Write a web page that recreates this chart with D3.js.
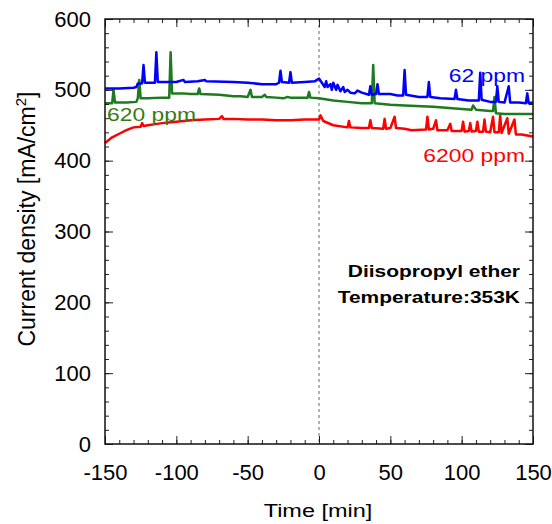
<!DOCTYPE html>
<html>
<head>
<meta charset="utf-8">
<script src="https://cdn.jsdelivr.net/npm/d3@7"></script>
<style>
  body { margin: 0; background: #fff; }
  text { font-family: "Liberation Sans", Arial, sans-serif; }
</style>
</head>
<body>
<div id="chart"></div>
<script>
var svgWidth = 552;
var svgHeight = 524;

var margin = { top: 19, right: 19, bottom: 80, left: 105 };
var width = 533 - margin.left;
var height = 444 - margin.top;

// series data: time [min] and current density [mA/cm2]
var blueTime = [-150,-140,-130,-128,-127,-124,-123,-122,-115,-114,-113,-100,-95,-94,-85,-80,-79,-60,-50,-40,-30,-28,-27,-26,-21,-20,-19,-10,-3,0,2,4,5,6,8,9,10,12,13,15,17,18,20,22,25,27,30,35,36,37,40,41,42,50,55,59,60,61,70,76,77,78,85,95,96,97,105,112,113,114,120,124,125,126,130,133,134,140,145,146,147,150];
var blueValue = [502,502,503,504,509,509,535,510,510,553,511,511,514,511,512,514,512,511,510,508,508,510,527,511,510,525,510,511,512,516,510,504,512,504,508,500,510,500,507,498,504,497,500,496,495,499,496,493,505,493,494,508,494,494,492,492,528,493,490,490,511,490,488,487,500,487,485,485,524,486,483,483,505,483,482,505,482,482,481,495,481,482];

var greenTime = [-150,-145,-144,-143,-135,-128,-127,-126,-125,-120,-110,-105,-104,-103,-95,-90,-85,-84,-83,-70,-60,-55,-50,-48,-47,-40,-38,-37,-30,-25,-22,-20,-8,-7,-6,0,10,20,30,37,38,39,50,60,80,100,107,108,110,120,122,123,124,130,150];
var greenValue = [481,481,500,482,482,483,488,514,488,488,489,489,553,495,495,494,494,502,494,493,491,491,490,500,490,490,493,490,489,488,490,489,489,497,489,488,485,483,481,481,535,481,479,478,476,473,472,478,472,470,470,490,467,466,466];

var redTime = [-150,-145,-140,-135,-130,-125,-124,-123,-120,-110,-100,-90,-80,-70,-68,-67,-60,-50,-40,-30,-20,-10,0,1,3,10,20,21,22,30,35,36,37,45,46,47,50,53,54,60,65,75,76,77,80,82,83,90,92,93,100,101,102,105,106,107,110,111,112,115,116,117,120,122,123,126,127,128,132,133,137,138,142,145,150];
var redValue = [425,433,438,443,447,448,453,449,450,453,455,457,458,459,463,459,459,458,458,457,457,458,458,464,456,450,447,456,447,446,446,457,446,445,459,445,446,462,446,445,443,444,462,444,445,457,443,443,452,442,442,455,441,442,453,441,442,455,441,441,458,441,440,462,440,440,464,439,460,438,458,437,437,436,434];

var xTicks = [-150,-100,-50,0,50,100,150];
var yTicks = [0,100,200,300,400,500,600];

var chart = d3.select('#chart');
var svg = chart.append('svg')
    .attr('width', svgWidth)
    .attr('height', svgHeight);

var chartGroup = svg.append('g')
    .attr('transform', `translate(${margin.left}, ${margin.top})`);

var xLinearScale = d3.scaleLinear().domain([-150, 150]).range([0, width]);
var yLinearScale = d3.scaleLinear().domain([0, 600]).range([height, 0]);

function toPoints(times, values) {
    return times.map((t, i) => [t, values[i]]);
}

var line = d3.line()
    .x(d => xLinearScale(d[0]))
    .y(d => yLinearScale(d[1]));

// dashed line at t = 0
chartGroup.append('line')
    .attr('x1', xLinearScale(0))
    .attr('x2', xLinearScale(0))
    .attr('y1', 0)
    .attr('y2', height)
    .attr('stroke', '#666')
    .attr('stroke-width', 1)
    .attr('stroke-dasharray', '3,3');

var series = [
    { pts: toPoints(redTime, redValue), color: '#ff0000' },
    { pts: toPoints(greenTime, greenValue), color: '#1e7a1e' },
    { pts: toPoints(blueTime, blueValue), color: '#0000ff' }
];

series.forEach(function(s) {
    chartGroup.append('path')
        .datum(s.pts)
        .attr('fill', 'none')
        .attr('stroke', s.color)
        .attr('stroke-width', 2.5)
        .attr('stroke-linejoin', 'round')
        .attr('d', line);
});

// axes with inward ticks
var xMinor = d3.range(-150, 151, 10);
var yMinor = d3.range(0, 601, 20);

function drawAxis(axisFn, scale, ticks, size, translate, labels) {
    var g = chartGroup.append('g')
        .attr('transform', translate)
        .call(axisFn(scale).tickValues(ticks).tickSize(size)
            .tickFormat(labels ? (d => String(d)) : ''));
    g.select('.domain').remove();
    g.selectAll('line').attr('stroke', '#222').attr('stroke-width', 1);
    return g;
}

// minor ticks
drawAxis(d3.axisBottom, xLinearScale, xMinor, -4, `translate(0, ${height})`, false);
drawAxis(d3.axisTop, xLinearScale, xMinor, -4, 'translate(0, 0)', false);
drawAxis(d3.axisLeft, yLinearScale, yMinor, -4, 'translate(0, 0)', false);
drawAxis(d3.axisRight, yLinearScale, yMinor, -4, `translate(${width}, 0)`, false);

// major ticks
var xAxis = drawAxis(d3.axisBottom, xLinearScale, xTicks, -8, `translate(0, ${height})`, true);
drawAxis(d3.axisTop, xLinearScale, xTicks, -8, 'translate(0, 0)', false);
var yAxis = drawAxis(d3.axisLeft, yLinearScale, yTicks, -8, 'translate(0, 0)', true);
drawAxis(d3.axisRight, yLinearScale, yTicks, -8, `translate(${width}, 0)`, false);

xAxis.selectAll('text')
    .attr('y', 36)
    .attr('dy', 0)
    .attr('font-size', '22px')
    .attr('fill', '#000')
    .style('font-family', '"Liberation Sans", Arial, sans-serif');
yAxis.selectAll('text')
    .attr('x', -14)
    .attr('font-size', '22px')
    .attr('fill', '#000')
    .style('font-family', '"Liberation Sans", Arial, sans-serif');

// frame
chartGroup.append('rect')
    .attr('width', width)
    .attr('height', height)
    .attr('fill', 'none')
    .attr('stroke', '#111')
    .attr('stroke-width', 1.5);

// horizontal texts in the figure are a bit wider than Arial
function wideText(x, y, txt, size, anchor, color, bold) {
    return svg.append('text')
        .attr('transform', `translate(${x}, ${y}) scale(1.27, 1)`)
        .attr('text-anchor', anchor)
        .attr('font-size', size + 'px')
        .attr('font-weight', bold ? 'bold' : 'normal')
        .attr('fill', color)
        .text(txt);
}

// axis titles
wideText(318, 517, 'Time [min]', 18.5, 'middle', '#000', false);

var yTitle = svg.append('text')
    .attr('transform', 'translate(35, 219) rotate(-90)')
    .attr('text-anchor', 'middle')
    .attr('font-size', '23px');
yTitle.append('tspan').text('Current density [mA/cm');
yTitle.append('tspan').attr('dy', -9).attr('font-size', '15px').text('2');
yTitle.append('tspan').attr('dy', 9).text(']');

// series labels
wideText(525, 82, '62 ppm', 18, 'end', '#0000ff', false);
wideText(107, 121, '620 ppm', 18, 'start', '#3a7a14', false);
wideText(525, 162, '6200 ppm', 18, 'end', '#ff0000', false);

// annotation
wideText(520, 277, 'Diisopropyl ether', 16.5, 'end', '#000', true);
wideText(520, 303, 'Temperature:353K', 16.5, 'end', '#000', true);
</script>
</body>
</html>
